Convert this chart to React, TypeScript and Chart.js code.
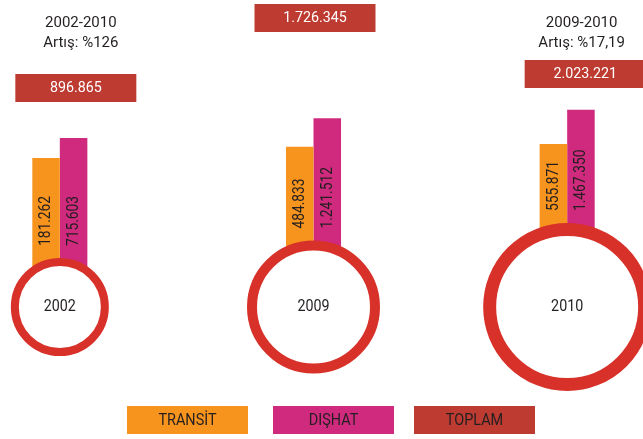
import React, { useEffect, useRef } from "react";
import { Chart, registerables } from "chart.js";

Chart.register(...registerables);

// ---- data ----
const years = ["2002", "2009", "2010"];
const transit = [181262, 484833, 555871];
const dishat = [715603, 1241512, 1467350];
const toplam = [896865, 1726345, 2023221];
const periodLabels = ["2002-2010", "", "2009-2010"];
const increaseLabels = ["Artış: %126", "", "Artış: %17,19"];
const legendLabels = ["TRANSİT", "DIŞHAT", "TOPLAM"];

// ---- scale / layout constants ----
const Y_MIN = -3791000;
const Y_MAX = 4396000;
const RING_RADIUS = [45, 61.5, 77.5];
const RING_WIDTH = [8, 10, 13];
const BOX_DX = [16, 1.5, 18];
const BOX_TOP = [74, 4, 60];
const TITLE_DX = [21, 0, 14.5];
const LEGEND_X = [127, 273, 414];

const ORANGE = "#F7941D";
const MAGENTA = "#D02A7E";
const RING = "#D83129";
const BOXRED = "#BD3B31";
const TEXT = "#231F20";
const FONT = "Roboto, 'Noto Sans', sans-serif";

const fmt = (n: number) => String(n).replace(/\B(?=(\d{3})+(?!\d))/g, ".");

function drawText(
  ctx: CanvasRenderingContext2D,
  text: string,
  x: number,
  y: number,
  size: number,
  color: string,
  sx: number,
  align: CanvasTextAlign = "center"
) {
  ctx.save();
  ctx.translate(x, y);
  ctx.scale(sx, 1);
  ctx.font = `${size}px ${FONT}`;
  ctx.fillStyle = color;
  ctx.textAlign = align;
  ctx.textBaseline = "middle";
  ctx.fillText(text, 0, 0);
  ctx.restore();
}

const overlayPlugin = {
  id: "overlay",
  afterDatasetsDraw(chart: any) {
    const ctx: CanvasRenderingContext2D = chart.ctx;
    const xs = chart.scales.x;
    const ringMeta = chart.getDatasetMeta(2);
    const series = [transit, dishat];

    // bar value labels (rotated)
    [0, 1].forEach((di) => {
      const meta = chart.getDatasetMeta(di);
      meta.data.forEach((bar: any, i: number) => {
        const ring = ringMeta.data[i];
        const outer = RING_RADIUS[i] + RING_WIDTH[i] / 2;
        const yb = ring.y - outer - 12;
        ctx.save();
        ctx.translate(bar.x, yb);
        ctx.rotate(-Math.PI / 2);
        ctx.scale(0.81, 1);
        ctx.font = `17px ${FONT}`;
        ctx.fillStyle = TEXT;
        ctx.textAlign = "left";
        ctx.textBaseline = "middle";
        ctx.fillText(fmt(series[di][i]), 0, 0);
        ctx.restore();
      });
    });

    years.forEach((yr, i) => {
      const cx = xs.getPixelForValue(i);
      // year in circle
      const ring = ringMeta.data[i];
      drawText(ctx, yr, ring.x, ring.y, 17, TEXT, 0.84);

      // total box
      const bx = cx + BOX_DX[i];
      ctx.fillStyle = BOXRED;
      ctx.fillRect(bx - 60.5, BOX_TOP[i], 121, 28);
      drawText(ctx, fmt(toplam[i]), bx, BOX_TOP[i] + 14.5, 15, "#FFFFFF", 0.95);

      // titles
      if (periodLabels[i]) {
        const tx = cx + TITLE_DX[i];
        drawText(ctx, periodLabels[i], tx, 23.5, 15, TEXT, 1);
        drawText(ctx, increaseLabels[i], tx, 43, 15, TEXT, 1);
      }
    });
  },
  afterDraw(chart: any) {
    const ctx: CanvasRenderingContext2D = chart.ctx;
    const left = chart.canvas.offsetLeft || 0;
    const colors = [ORANGE, MAGENTA, BOXRED];
    legendLabels.forEach((lab, i) => {
      const x = LEGEND_X[i] - left;
      ctx.fillStyle = colors[i];
      ctx.fillRect(x, 406, 121, 28);
      drawText(ctx, lab, x + 60.5, 420.5, 17, TEXT, 0.85);
    });
  },
};

export default function App() {
  const ref = useRef<HTMLCanvasElement | null>(null);

  useEffect(() => {
    if (!ref.current) return;
    const chart = new Chart(ref.current, {
      type: "bar",
      data: {
        labels: years,
        datasets: [
          {
            label: "TRANSİT",
            data: transit,
            backgroundColor: ORANGE,
            base: Y_MIN,
            order: 2,
            borderWidth: 0,
          } as any,
          {
            label: "DIŞHAT",
            data: dishat,
            backgroundColor: MAGENTA,
            base: Y_MIN,
            order: 2,
            borderWidth: 0,
          } as any,
          {
            type: "line",
            label: "TOPLAM",
            data: years.map(() => Y_MIN),
            showLine: false,
            pointRadius: RING_RADIUS,
            pointHoverRadius: RING_RADIUS,
            pointBorderWidth: RING_WIDTH,
            pointBackgroundColor: "#FFFFFF",
            pointBorderColor: RING,
            order: 1,
            clip: false,
          } as any,
        ],
      },
      options: {
        responsive: false,
        animation: false,
        devicePixelRatio: 1,
        layout: { autoPadding: false, padding: { top: 0, bottom: 132, left: 0, right: 0 } },
        datasets: {
          bar: { categoryPercentage: 0.217, barPercentage: 1 },
        } as any,
        scales: {
          x: { type: "category", display: false, offset: true },
          y: { display: false, min: Y_MIN, max: Y_MAX },
        },
        plugins: {
          legend: { display: false },
          tooltip: { enabled: false },
        },
        events: [],
      } as any,
      plugins: [overlayPlugin],
    });
    return () => chart.destroy();
  }, []);

  return (
    <div
      style={{
        position: "fixed",
        left: 0,
        top: 0,
        width: 643,
        height: 439,
        overflow: "hidden",
        background: "#FFFFFF",
      }}
    >
      <canvas
        ref={ref}
        width={761}
        height={439}
        style={{ position: "absolute", left: -67, top: 0 }}
      />
    </div>
  );
}
